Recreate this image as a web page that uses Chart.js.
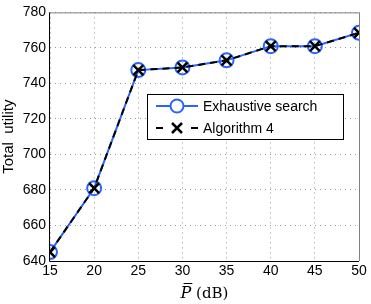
<!DOCTYPE html>
<html>
<head>
<meta charset="utf-8">
<script src="https://cdn.jsdelivr.net/npm/chart.js@4"></script>
<style>
  html, body { margin: 0; padding: 0; background: #fff; }
  #wrap { width: 371px; height: 304px; position: relative; }
</style>
</head>
<body>
<div id="wrap"><canvas id="chart"></canvas></div>
<script>
  // chart data
  const powerDb = [15, 20, 25, 30, 35, 40, 45, 50];
  const exhaustive = [645, 681, 747.5, 749, 753, 761, 761, 768.5];
  const algorithm4 = [645, 681, 747.5, 749, 753, 761, 761, 768.5];
  const seriesNames = ['Exhaustive search', 'Algorithm 4'];

  const blue = '#2a64ff';

  // frame, x title and legend drawn on top of the plot
  const framePlugin = {
    id: 'frame',
    afterDraw(chart) {
      const { ctx, chartArea: a } = chart;
      ctx.save();
      ctx.lineWidth = 1;
      ctx.strokeStyle = '#808080';
      ctx.beginPath();
      ctx.moveTo(a.left, a.top + 0.5);
      ctx.lineTo(a.right + 0.5, a.top + 0.5);
      ctx.lineTo(a.right + 0.5, a.bottom);
      ctx.stroke();
      ctx.strokeStyle = '#000';
      ctx.beginPath();
      ctx.moveTo(a.left - 0.5, a.top);
      ctx.lineTo(a.left - 0.5, a.bottom + 0.5);
      ctx.lineTo(a.right, a.bottom + 0.5);
      ctx.stroke();

      // x axis title: italic P with bar, then (dB)
      ctx.fillStyle = '#000';
      ctx.textBaseline = 'alphabetic';
      ctx.font = 'italic 16px "DejaVu Serif", "Liberation Serif", serif';
      const pW = ctx.measureText('P').width;
      ctx.font = '15px "DejaVu Serif", "Liberation Serif", serif';
      const rest = ' (dB)';
      const rW = ctx.measureText(rest).width;
      const cx = (a.left + a.right) / 2;
      let tx = cx - (pW + rW) / 2;
      const ty = 298;
      ctx.font = 'italic 16px "DejaVu Serif", "Liberation Serif", serif';
      ctx.fillText('P', tx, ty);
      ctx.lineWidth = 1;
      ctx.beginPath();
      ctx.moveTo(tx + 3, ty - 14.5); ctx.lineTo(tx + pW + 1, ty - 14.5);
      ctx.stroke();
      ctx.font = '15px "DejaVu Serif", "Liberation Serif", serif';
      ctx.fillText(rest, tx + pW, ty);

      // legend box
      const bx = 147, by = 94, bw = 196, bh = 45;
      ctx.fillStyle = '#fff';
      ctx.fillRect(bx, by, bw, bh);
      ctx.strokeStyle = '#000';
      ctx.strokeRect(bx + 0.5, by + 0.5, bw, bh);

      // row 1
      let y = 106;
      ctx.strokeStyle = blue;
      ctx.lineWidth = 2;
      ctx.beginPath();
      ctx.moveTo(156, y); ctx.lineTo(198, y);
      ctx.stroke();
      ctx.beginPath();
      ctx.arc(177, y, 6.5, 0, Math.PI * 2);
      ctx.fillStyle = '#fff';
      ctx.fill();
      ctx.stroke();

      // row 2
      y = 128;
      ctx.strokeStyle = '#000';
      ctx.beginPath();
      ctx.moveTo(156, y); ctx.lineTo(163, y);
      ctx.moveTo(191, y); ctx.lineTo(198, y);
      ctx.stroke();
      ctx.lineWidth = 2.5;
      ctx.beginPath();
      ctx.moveTo(172, y - 5); ctx.lineTo(182, y + 5);
      ctx.moveTo(182, y - 5); ctx.lineTo(172, y + 5);
      ctx.stroke();

      ctx.fillStyle = '#000';
      ctx.font = '14px "Liberation Sans", Arial, sans-serif';
      ctx.textBaseline = 'middle';
      ctx.fillText(seriesNames[0], 203, 107);
      ctx.fillText(seriesNames[1], 203, 129);
      ctx.restore();
    }
  };

  const toPoints = vals => vals.map((v, i) => ({ x: powerDb[i], y: v }));

  new Chart(document.getElementById('chart'), {
    type: 'line',
    data: {
      datasets: [
        {
          label: seriesNames[0],
          order: 2,
          data: toPoints(exhaustive),
          borderColor: blue,
          borderWidth: 2,
          pointStyle: 'circle',
          pointRadius: 7,
          pointBorderWidth: 2,
          pointBorderColor: blue,
          pointBackgroundColor: 'rgba(0,0,0,0)',
          tension: 0,
          fill: false
        },
        {
          label: seriesNames[1],
          order: 1,
          data: toPoints(algorithm4),
          borderColor: '#000',
          borderWidth: 2,
          borderDash: [7, 5],
          pointStyle: 'cross',
          rotation: 45,
          pointRadius: 7,
          pointBorderWidth: 2.5,
          pointBorderColor: '#000',
          tension: 0,
          fill: false
        }
      ]
    },
    options: {
      responsive: true,
      maintainAspectRatio: false,
      animation: false,
      layout: { padding: { top: 6, right: 12, bottom: 0, left: 0 } },
      plugins: { legend: { display: false }, tooltip: { enabled: false } },
      scales: {
        x: {
          type: 'linear',
          min: 15, max: 50,
          afterFit: s => { s.height = 43; },
          ticks: {
            stepSize: 5, color: '#000', padding: 2,
            font: { family: '"Liberation Sans", Arial, sans-serif', size: 14 }
          },
          grid: { color: '#999', lineWidth: 1, drawTicks: false },
          border: { display: false, dash: [1, 4] },
          title: { display: false }
        },
        y: {
          min: 640, max: 780,
          afterFit: s => { s.width = 50; },
          ticks: {
            stepSize: 20, color: '#000', padding: 4,
            font: { family: '"Liberation Sans", Arial, sans-serif', size: 14 }
          },
          grid: { color: '#999', lineWidth: 1, drawTicks: false },
          border: { display: false, dash: [1, 4] },
          title: {
            display: true, text: 'Total  utility', color: '#000', padding: 0,
            font: { family: '"Liberation Sans", Arial, sans-serif', size: 15 }
          }
        }
      }
    },
    plugins: [framePlugin]
  });
</script>
</body>
</html>
